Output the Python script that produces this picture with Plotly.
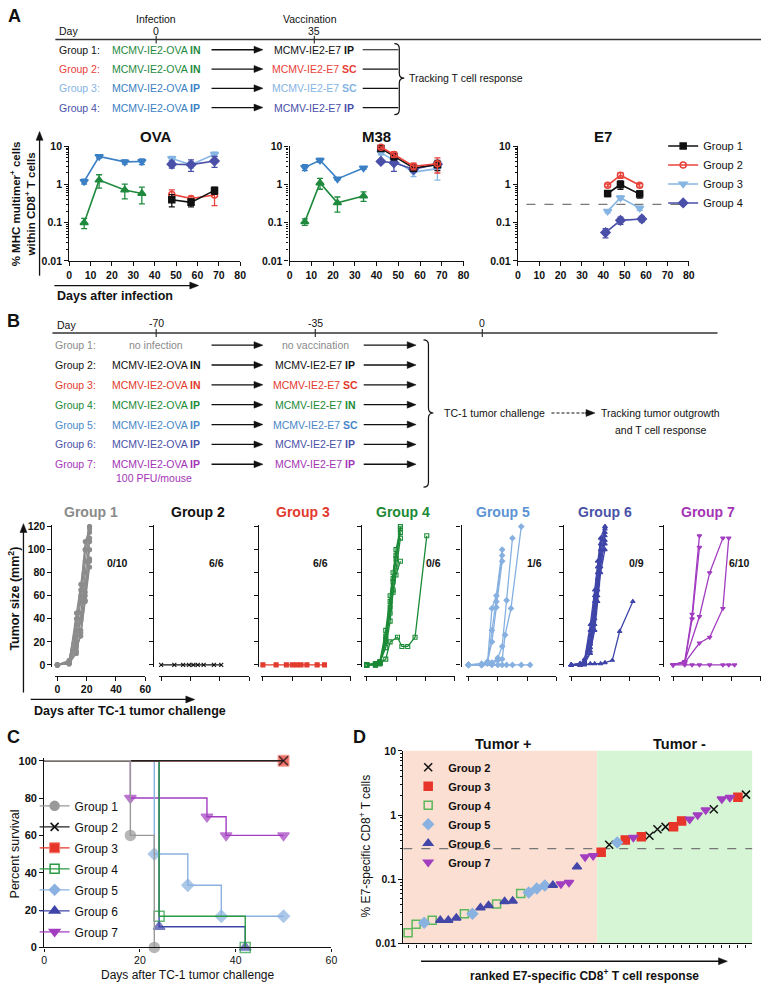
import math
import plotly.graph_objects as go

# ---------------------------------------------------------------------------
# canvas helpers (pixel -> paper)
# ---------------------------------------------------------------------------
W, H = 767, 988
FONT = "Liberation Sans, Arial, sans-serif"


def fx(x):
    return min(1.0, max(0.0, x / W))


def fy(y):
    return min(1.0, max(0.0, 1 - y / H))


def axn(n):
    return "" if n == 1 else str(n)


# ---------------------------------------------------------------------------
# Panel A data  (% MHC multimer+ cells within CD8+ T cells)
# ---------------------------------------------------------------------------
ova_pre_days = [7, 14, 26, 34]
ova_ip_pre = [1.2, 5.4, 3.9, 4.0]
ova_ip_pre_err = [0.17, 0.5, 0.5, 0.7]
ova_in_pre = [0.10, 1.3, 0.72, 0.58]
ova_in_pre_err = [0.03, 0.5, 0.3, 0.27]
ova_post_days = [48, 57, 68]
ova_g1 = [0.40, 0.34, 0.70]
ova_g1_err = [0.14, 0.08, 0.15]
ova_g2 = [0.55, 0.43, 0.53]
ova_g2_err = [0.17, 0.06, 0.25]
ova_g3 = [4.8, 3.3, 6.2]
ova_g3_err = [0.6, 0.6, 0.8]
ova_g4 = [3.4, 3.3, 4.1]
ova_g4_err = [0.7, 1.1, 1.3]

m38_pre_days = [7, 14, 22, 34]
m38_ip_pre = [2.8, 4.3, 1.4, 2.7]
m38_ip_pre_err = [0.5, 0.5, 0.1, 0.2]
m38_in_pre = [0.105, 1.1, 0.33, 0.5]
m38_in_pre_err = [0.02, 0.35, 0.14, 0.14]
m38_post_days = [42, 48, 57, 68]
m38_g1 = [8.8, 5.4, 2.7, 3.3]
m38_g1_err = [0.6, 1.0, 0.5, 1.0]
m38_g2 = [9.4, 6.1, 3.0, 3.5]
m38_g2_err = [0.6, 1.0, 0.6, 1.5]
m38_g3 = [6.8, 4.3, 2.1, 2.6]
m38_g3_err = [0.8, 0.8, 0.5, 1.3]
m38_g4 = [4.0, 3.7, 2.5, 3.4]
m38_g4_err = [0.4, 1.5, 0.4, 0.6]

e7_days = [42, 48, 57]
e7_g4_days = [41, 48, 58]
e7_g1 = [0.58, 1.0, 0.56]
e7_g1_err = [0.1, 0.25, 0.12]
e7_g2 = [0.95, 1.75, 0.95]
e7_g2_err = [0.08, 0.3, 0.1]
e7_g3 = [0.20, 0.45, 0.24]
e7_g3_err = [0.02, 0.05, 0.03]
e7_g4 = [0.055, 0.115, 0.125]
e7_g4_err = [0.015, 0.025, 0.02]
E7_CUTOFF = 0.3

# ---------------------------------------------------------------------------
# Panel B data  (tumor size, mm2, per mouse)
# ---------------------------------------------------------------------------
g1_days = [0, 8, 13, 16, 19, 22]
g1_sizes = [
    [0, 2, 45, 70, 100, 120],
    [0, 1, 30, 55, 90, 115],
    [0, 3, 20, 40, 63, 110],
    [0, 1, 15, 25, 56, 90],
    [0, 2, 25, 45, 80, 107],
    [0, 4, 35, 60, 100, 120],
    [0, 1, 10, 30, 60, 92],
    [0, 2, 18, 38, 70, 100],
    [0, 1, 12, 28, 55, 85],
    [0, 3, 40, 65, 107, 118],
]
g2_days = [0, 9, 15, 19, 22, 25, 29, 36, 41]
g2_sizes = [[0, 0, 0, 0, 0, 0, 0, 0, 0]]
g3_days = [0, 9, 16, 20, 23, 26, 30, 37, 42]
g3_sizes = [[0, 0, 0, 0, 0, 0, 0, 0, 0]]
g4_days = [0, 6, 9, 13, 16, 18, 20, 23]
g4_sizes = [
    [0, 1, 2, 25, 50, 75, 95, 120],
    [0, 0, 1, 20, 45, 65, 85, 110],
    [0, 1, 3, 30, 60, 80, 100, 118],
    [0, 0, 2, 15, 38, 63, 78, 90],
    [0, 1, 2, 22, 55, 72, 92, 115],
]
g4_late_days = [0, 6, 9, 13, 16, 21, 24, 28, 33, 41]
g4_late_sizes = [0, 0, 1, 5, 20, 24, 16, 16, 24, 112]
g5_curve_days = [
    [0, 9, 13, 16, 19, 23],
    [0, 9, 13, 16, 19, 23],
    [0, 9, 13, 16, 19, 23],
    [0, 9, 16, 20, 23, 26, 30],
    [0, 9, 16, 20, 23, 25, 29, 36],
    [0, 9, 16, 20, 23, 26, 30, 36, 42],
]
g5_curve_sizes = [
    [0, 1, 2, 49, 60, 100],
    [0, 0, 1, 30, 55, 95],
    [0, 0, 3, 20, 50, 90],
    [0, 0, 2, 6, 16, 56, 110],
    [0, 0, 1, 4, 5, 26, 49, 120],
    [0, 0, 0, 0, 0, 0, 0, 0, 0],
]
g6_days = [0, 6, 9, 13, 16, 18, 20, 23]
g6_sizes = [
    [0, 0, 2, 20, 50, 75, 100, 120],
    [0, 1, 3, 30, 60, 85, 105, 118],
    [0, 0, 5, 15, 40, 65, 90, 112],
    [0, 1, 2, 25, 55, 80, 95, 115],
    [0, 0, 1, 10, 35, 60, 85, 108],
    [0, 0, 4, 35, 65, 90, 110, 120],
    [0, 1, 3, 18, 45, 70, 92, 105],
    [0, 0, 2, 12, 30, 55, 80, 100],
]
g6_late_days = [0, 6, 9, 13, 16, 20, 23, 28, 33, 42]
g6_late_sizes = [0, 0, 0, 1, 1, 1, 2, 4, 29, 55]
g7_curve_days = [
    [0, 8, 13, 18],
    [0, 8, 13, 18],
    [0, 8, 18, 25, 34],
    [0, 8, 18, 25, 34, 38],
    [0, 8, 13, 18, 25, 34, 38, 42],
]
g7_curve_sizes = [
    [0, 3, 44, 112],
    [0, 2, 40, 102],
    [0, 3, 42, 80, 110],
    [0, 2, 19, 24, 49, 110],
    [0, 0, 0, 0, 0, 0, 0, 0],
]
tumor_free = ["0/10", "6/6", "6/6", "0/6", "1/6", "0/9", "6/10"]

# ---------------------------------------------------------------------------
# Panel C data  (Kaplan-Meier survival, %)
# ---------------------------------------------------------------------------
surv_g1_days = [0, 18, 23]
surv_g1 = [100, 60, 0]
surv_g2_days = [0, 50]
surv_g2 = [100, 100]
surv_g3_days = [0, 50]
surv_g3 = [100, 100]
surv_g4_days = [0, 24, 42]
surv_g4 = [100, 16.7, 0]
surv_g5_days = [0, 23, 30, 37, 50]
surv_g5 = [100, 50, 33.3, 16.7, 16.7]
surv_g6_days = [0, 24, 42]
surv_g6 = [100, 11.1, 0]
surv_g7_days = [0, 18, 34, 38, 50]
surv_g7 = [100, 80, 70, 60, 60]

# ---------------------------------------------------------------------------
# Panel D data  (ranked % E7-specific CD8+ T cells)
# ---------------------------------------------------------------------------
rank_values = [
    0.0147, 0.020, 0.021, 0.023, 0.023, 0.023, 0.025, 0.029, 0.029, 0.036,
    0.039, 0.041, 0.045, 0.046, 0.060, 0.062, 0.072, 0.080, 0.081, 0.084,
    0.089, 0.156, 0.223, 0.232, 0.263, 0.345, 0.375, 0.41, 0.448, 0.459,
    0.475, 0.603, 0.654, 0.66, 0.81, 0.86, 1.0, 1.2, 1.23, 1.78,
    1.88, 1.90, 2.08,
]
rank_groups = [
    4, 4, 5, 4, 6, 6, 6, 4, 5, 6,
    6, 4, 6, 6, 4, 5, 5, 5, 6, 7,
    7, 6, 7, 7, 3, 2, 5, 3, 7, 3,
    2, 2, 2, 3, 3, 7, 7, 7, 2, 7,
    7, 3, 2,
]
TUMOR_SPLIT = 24.5  # ranks 1-24 tumor +, 25-43 tumor -

# ---------------------------------------------------------------------------
# colours
# ---------------------------------------------------------------------------
BLACK = "#111111"
A_RED = "#e8423a"
A_LBLUE = "#86b5e3"
A_INDIGO = "#4a4fa8"
A_BLUE = "#3b7fc4"
A_GREEN = "#1f8a3e"

B_COL = {1: "#8c8c8c", 2: BLACK, 3: "#e23a2d", 4: "#1b8a36",
         5: "#86b0e0", 6: "#3f45a8", 7: "#a23dc0"}
B_TITLE = {1: "#8a8a8a", 2: BLACK, 3: "#e23a2d", 4: "#1b8a36",
           5: "#5b93d3", 6: "#4a52a8", 7: "#a334b5"}
B_SYM = {1: "circle", 2: "x-thin", 3: "square", 4: "square-open",
         5: "diamond", 6: "triangle-up", 7: "triangle-down"}
C_COL = {1: "#999999", 2: "#222222", 3: "#e8352a", 4: "#2a9a45",
         5: "#8ab2e0", 6: "#3f45a8", 7: "#a23dc0"}
D_COL = {2: BLACK, 3: "#e8352a", 4: "#5cb85c", 5: "#8ab2e0",
         6: "#4347a8", 7: "#a23dc0"}

fig = go.Figure()
ann = []
shapes = []
SCH = 10.5  # schematic font size


def text(x, y, s, size=11, color=BLACK, anchor="left", bold=False, angle=0):
    ann.append(dict(x=fx(x), y=fy(y), xref="paper", yref="paper", text=s,
                    showarrow=False, xanchor=anchor, yanchor="middle",
                    textangle=angle,
                    font=dict(family=FONT, size=size, color=color,
                              weight="bold" if bold else "normal")))


def line(x0, y0, x1, y1, width=1.2, color=BLACK, dash=None):
    shapes.append(dict(type="line", xref="paper", yref="paper",
                       x0=fx(x0), y0=fy(y0), x1=fx(x1), y1=fy(y1),
                       line=dict(color=color, width=width, dash=dash)))


def arrow(x0, y0, x1, y1, width=1.3, head=9, half=3.5):
    # shaft + filled triangular head, all in pixel space
    L = math.hypot(x1 - x0, y1 - y0)
    ux, uy = (x1 - x0) / L, (y1 - y0) / L
    bx, by = x1 - ux * head, y1 - uy * head
    line(x0, y0, bx + ux * 1, by + uy * 1, width=width)
    p1 = (bx - uy * half, by + ux * half)
    p2 = (bx + uy * half, by - ux * half)
    path = (f"M {fx(x1)},{fy(y1)} L {fx(p1[0])},{fy(p1[1])} "
            f"L {fx(p2[0])},{fy(p2[1])} Z")
    shapes.append(dict(type="path", xref="paper", yref="paper", path=path,
                       fillcolor=BLACK, line=dict(color=BLACK, width=0.5)))


def bracket(x, top, bottom, mid, hook=5, tip=5, r=5):
    p = (f"M {fx(x - hook)},{fy(top)} Q {fx(x)},{fy(top)} {fx(x)},{fy(top + r)} "
         f"L {fx(x)},{fy(mid - r)} Q {fx(x)},{fy(mid)} {fx(x + tip)},{fy(mid)} "
         f"Q {fx(x)},{fy(mid)} {fx(x)},{fy(mid + r)} "
         f"L {fx(x)},{fy(bottom - r)} Q {fx(x)},{fy(bottom)} {fx(x - hook)},{fy(bottom)}")
    shapes.append(dict(type="path", xref="paper", yref="paper", path=p,
                       line=dict(color=BLACK, width=1.2)))


axis_base = dict(showline=True, linecolor=BLACK, linewidth=1.2, ticks="outside",
                 tickcolor=BLACK, tickwidth=1.2, ticklen=4, showgrid=False,
                 zeroline=False,
                 tickfont=dict(family=FONT, size=10.5, color=BLACK, weight="bold"))
layout_axes = {}
log_minor = [m * 10 ** e for e in (-2, -1, 0) for m in range(2, 10)]

# ===========================================================================
# Panel A
# ===========================================================================
A_x = [(67, 240), (290, 466), (521, 694)]
for i, (a, b) in enumerate(A_x):
    n = i + 1
    layout_axes[f"xaxis{axn(n)}"] = dict(axis_base, domain=[fx(a), fx(b)], range=[0, 80],
                                         tick0=0, dtick=10, anchor=f"y{axn(n)}")
    layout_axes[f"yaxis{axn(n)}"] = dict(axis_base, type="log", domain=[fy(258), fy(142)],
                                         range=[-2, 1], tickvals=[0.01, 0.1, 1, 10],
                                         ticktext=["0.01", "0.1", "1", "10"],
                                         anchor=f"x{axn(n)}",
                                         minor=dict(ticks="outside", ticklen=2, tickcolor=BLACK,
                                                    tickvals=log_minor))


def a_series(n, days, vals, err, color, symbol, name=None, legend=False, size=7, rank=None):
    fig.add_trace(go.Scatter(
        x=days, y=vals, xaxis=f"x{axn(n)}", yaxis=f"y{axn(n)}", mode="lines+markers",
        line=dict(color=color, width=1.6),
        marker=dict(symbol=symbol, size=size, color=color, line=dict(color=color, width=1.5)),
        error_y=dict(type="data", array=err, color=color, thickness=1.3, width=3),
        name=name, showlegend=legend, legend="legend", legendrank=rank or 1000,
        cliponaxis=False))


# OVA
a_series(1, ova_pre_days, ova_ip_pre, ova_ip_pre_err, A_BLUE, "triangle-down")
a_series(1, ova_pre_days, ova_in_pre, ova_in_pre_err, A_GREEN, "triangle-up")
a_series(1, ova_post_days, ova_g3, ova_g3_err, A_LBLUE, "triangle-down", "Group 3", True, rank=3)
a_series(1, ova_post_days, ova_g4, ova_g4_err, A_INDIGO, "diamond", "Group 4", True, rank=4)
a_series(1, ova_post_days, ova_g2, ova_g2_err, A_RED, "circle-open", "Group 2", True, size=6, rank=2)
a_series(1, ova_post_days, ova_g1, ova_g1_err, BLACK, "square", "Group 1", True, size=6, rank=1)
# M38
a_series(2, m38_pre_days, m38_ip_pre, m38_ip_pre_err, A_BLUE, "triangle-down")
a_series(2, m38_pre_days, m38_in_pre, m38_in_pre_err, A_GREEN, "triangle-up")
a_series(2, m38_post_days, m38_g3, m38_g3_err, A_LBLUE, "triangle-down")
a_series(2, m38_post_days, m38_g4, m38_g4_err, A_INDIGO, "diamond")
a_series(2, m38_post_days, m38_g1, m38_g1_err, BLACK, "square", size=6)
a_series(2, m38_post_days, m38_g2, m38_g2_err, A_RED, "circle-open", size=6)
# E7
fig.add_trace(go.Scatter(x=[4, 79.5], y=[E7_CUTOFF, E7_CUTOFF], xaxis="x3", yaxis="y3",
                         mode="lines", line=dict(color="#777777", width=1.3, dash="dash"),
                         showlegend=False, hoverinfo="skip"))
a_series(3, e7_days, e7_g3, e7_g3_err, A_LBLUE, "triangle-down")
a_series(3, e7_g4_days, e7_g4, e7_g4_err, A_INDIGO, "diamond")
a_series(3, e7_days, e7_g1, e7_g1_err, BLACK, "square", size=6)
a_series(3, e7_days, e7_g2, e7_g2_err, A_RED, "circle-open", size=6)

text(3, 10, "A", 18, bold=True)
text(55, 25, "Day", SCH)
text(155, 13, "Infection", SCH, anchor="center")
text(155, 25, "0", SCH, anchor="center")
text(311, 13, "Vaccination", SCH, anchor="center")
text(315, 25, "35", SCH, anchor="center")
line(53, 34, 767, 34, width=1.5, color="#333333")
line(155, 30, 155, 38, color="#333333")
line(315, 30, 315, 38, color="#333333")

rows_A = [
    ("Group 1:", BLACK, "MCMV-IE2-OVA", "IN", A_GREEN, "MCMV-IE2-E7", "IP", BLACK),
    ("Group 2:", A_RED, "MCMV-IE2-OVA", "IN", A_GREEN, "MCMV-IE2-E7", "SC", A_RED),
    ("Group 3:", A_LBLUE, "MCMV-IE2-OVA", "IP", A_BLUE, "MCMV-IE2-E7", "SC", A_LBLUE),
    ("Group 4:", A_INDIGO, "MCMV-IE2-OVA", "IP", A_BLUE, "MCMV-IE2-E7", "IP", A_INDIGO),
]
for i, (lab, lc, v1, r1, c1, v2, r2, c2) in enumerate(rows_A):
    y = 44.3 + 19.5 * i
    text(55, y, lab, SCH, lc)
    text(155, y, f"{v1} <b>{r1}</b>", SCH, c1, anchor="center")
    arrow(211, y, 263, y)
    text(315, y, f"{v2} <b>{r2}</b>", SCH, c2, anchor="center")
    line(364, y, 400, y)
bracket(401, 38, 110, 73)
text(409, 73, "Tracking T cell response", SCH)

text(155, 132, "OVA", 15, bold=True, anchor="center")
text(378, 132, "M38", 15, bold=True, anchor="center")
text(607, 132, "E7", 15, bold=True, anchor="center")
text(20, 200, "% MHC multimer<sup>+</sup> cells<br>within CD8<sup>+</sup> T cells", 11.5,
     bold=True, angle=-90, anchor="center")
arrow(37, 273, 37, 127)
arrow(52, 283, 198, 283)
text(53, 294, "Days after infection", 12.5, bold=True)

# ===========================================================================
# Panel B
# ===========================================================================
text(2, 319, "B", 18, bold=True)
text(53, 323, "Day", SCH)
text(155, 321, "-70", SCH, anchor="center")
text(316, 321, "-35", SCH, anchor="center")
text(485, 321, "0", SCH, anchor="center")
line(50, 331, 723, 331, width=1.5, color="#333333")
for tx in (155, 316, 485):
    line(tx, 327, tx, 335, color="#333333")

B_BLUE = "#4a88c8"
rows_B = [
    ("Group 1:", B_TITLE[1], "no infection", "", B_TITLE[1], "no vaccination", "", B_TITLE[1]),
    ("Group 2:", BLACK, "MCMV-IE2-OVA", "IN", BLACK, "MCMV-IE2-E7", "IP", BLACK),
    ("Group 3:", B_COL[3], "MCMV-IE2-OVA", "IN", B_COL[3], "MCMV-IE2-E7", "SC", B_COL[3]),
    ("Group 4:", B_COL[4], "MCMV-IE2-OVA", "IP", B_COL[4], "MCMV-IE2-E7", "IN", B_COL[4]),
    ("Group 5:", B_BLUE, "MCMV-IE2-OVA", "IP", B_BLUE, "MCMV-IE2-E7", "SC", B_BLUE),
    ("Group 6:", B_TITLE[6], "MCMV-IE2-OVA", "IP", B_TITLE[6], "MCMV-IE2-E7", "IP", B_TITLE[6]),
    ("Group 7:", B_TITLE[7], "MCMV-IE2-OVA", "IP", B_TITLE[7], "MCMV-IE2-E7", "IP", B_TITLE[7]),
]
for i, (lab, lc, v1, r1, c1, v2, r2, c2) in enumerate(rows_B):
    y = 343.3 + 20.1 * i
    text(51, y, lab, SCH, lc)
    text(155, y, f"{v1} <b>{r1}</b>" if r1 else v1, SCH, c1, anchor="center")
    arrow(211, y, 263, y)
    text(316, y, f"{v2} <b>{r2}</b>" if r2 else v2, SCH, c2, anchor="center")
    arrow(365, y, 418, y)
text(153, 478, "100 PFU/mouse", SCH, B_TITLE[7], anchor="center")
bracket(430.5, 338, 487, 412)
text(444, 412, "TC-1 tumor challenge", SCH)
line(555, 412, 590, 412, width=1.2, dash="3px,2px")
arrow(589, 412, 599, 412)
text(603, 412, "Tracking tumor outgrowth", SCH)
text(617, 429, "and T cell response", SCH)

B_yaxis_x = [49, 152, 258, 362, 463, 567, 668]
B_x0 = [55, 160, 263, 368, 471, 575, 678]
B_title_x = [89, 197, 304, 405, 506, 609, 713]
B_ratio_x = [116, 216, 321, 436, 538, 641, 745]
ppd = 89 / 60
ppu = 140 / 120
for k in range(7):
    n = 4 + k
    first = k == 0
    layout_axes[f"xaxis{n}"] = dict(axis_base, domain=[fx(B_x0[k] - 1.5 * ppd), fx(B_x0[k] + 60 * ppd)],
                                    range=[-1.5, 60], tickvals=[0, 20, 40, 60],
                                    showticklabels=first, anchor="free", position=fy(678))
    layout_axes[f"yaxis{n}"] = dict(axis_base, domain=[fy(667 + 2 * ppu), fy(527 - 1 * ppu)],
                                    range=[-2, 121], tickvals=[0, 20, 40, 60, 80, 100, 120],
                                    showticklabels=first, anchor="free", position=fx(B_yaxis_x[k]))
    text(B_title_x[k], 512.7, f"Group {k + 1}", 14, B_TITLE[k + 1], anchor="center", bold=True)
    text(B_ratio_x[k], 564, tumor_free[k], 10.5, anchor="center", bold=True)


def b_curve(k, days, sizes):
    n = 4 + k - 1
    col = B_COL[k]
    sym = B_SYM[k]
    fig.add_trace(go.Scatter(
        x=days, y=sizes, xaxis=f"x{n}", yaxis=f"y{n}", mode="lines+markers",
        line=dict(color=col, width=1.3),
        marker=dict(symbol=sym, size=4, color=col, line=dict(color=col, width=1.1)),
        showlegend=False, cliponaxis=False, hoverinfo="skip"))


for s in g1_sizes:
    b_curve(1, g1_days, s)
for s in g2_sizes:
    b_curve(2, g2_days, s)
for s in g3_sizes:
    b_curve(3, g3_days, s)
for s in g4_sizes:
    b_curve(4, g4_days, s)
b_curve(4, g4_late_days, g4_late_sizes)
for d, s in zip(g5_curve_days, g5_curve_sizes):
    b_curve(5, d, s)
for s in g6_sizes:
    b_curve(6, g6_days, s)
b_curve(6, g6_late_days, g6_late_sizes)
for d, s in zip(g7_curve_days, g7_curve_sizes):
    b_curve(7, d, s)

text(11, 600, "Tumor size (mm<sup>2</sup>)", 12.5, bold=True, angle=-90, anchor="center")
arrow(20.7, 695, 20.7, 524)
arrow(28, 702, 194, 702)
text(29, 714, "Days after TC-1 tumor challenge", 12.5, bold=True)

# ===========================================================================
# Panel C
# ===========================================================================
text(2, 740, "C", 18, bold=True)
ppc = (953 - 764) / 100
layout_axes["xaxis11"] = dict(axis_base, domain=[fx(41.7), fx(332.3)], range=[0, 60],
                              tickvals=[0, 20, 40, 60], anchor="y11", ticklen=3,
                              tickfont=dict(family=FONT, size=10.5, color=BLACK))
layout_axes["yaxis11"] = dict(axis_base, domain=[fy(953), fy(764 - 1.2 * ppc)],
                              range=[0, 101.2], tickvals=[0, 20, 40, 60, 80, 100],
                              anchor="x11", tickfont=dict(family=FONT, size=11, color=BLACK, weight="bold"))

surv = [
    (7, surv_g7_days, surv_g7, "triangle-down", 10),
    (6, surv_g6_days, surv_g6, "triangle-up", 10),
    (5, surv_g5_days, surv_g5, "diamond", 9),
    (4, surv_g4_days, surv_g4, "square-open", 10),
    (3, surv_g3_days, surv_g3, "square", 11),
    (2, surv_g2_days, surv_g2, "x-thin", 9),
    (1, surv_g1_days, surv_g1, "circle", 10),
]
for g, days, vals, sym, ms in surv:
    col = C_COL[g]
    mline = dict(color="#f08070", width=1) if g == 3 else dict(color=col, width=1.5)
    if g == 2:
        mline = dict(color=BLACK, width=1.6)
    sizes = [0] + [ms] * (len(days) - 1)
    fig.add_trace(go.Scatter(
        x=days, y=vals, xaxis="x11", yaxis="y11", mode="lines+markers",
        line=dict(color=col, width=1.4, shape="hv"),
        marker=dict(symbol=sym, size=sizes, color=col, line=mline),
        showlegend=False, cliponaxis=False, hoverinfo="skip"))
    fig.add_trace(go.Scatter(
        x=[None], y=[None], xaxis="x11", yaxis="y11", mode="lines+markers",
        line=dict(color=col, width=1.4),
        marker=dict(symbol=sym, size=ms - 1, color=col, line=mline),
        name=f"Group {g}", legend="legend2", legendrank=g, legendgroup=f"c{g}",
        showlegend=True))

text(12, 858, "Percent survival", 12.5, angle=-90, anchor="center")
text(187, 981, "Days after TC-1 tumor challenge", 12, anchor="center")

# ===========================================================================
# Panel D
# ===========================================================================
text(352, 740, "D", 18, bold=True)
layout_axes["xaxis12"] = dict(axis_base, domain=[fx(405), fx(758.3)], range=[0.4, 43.8],
                              tick0=1, dtick=1, ticklen=3, tickwidth=1, showticklabels=False,
                              anchor="y12")
layout_axes["yaxis12"] = dict(axis_base, type="log", domain=[fy(949), fy(754)], range=[-2, 1],
                              tickvals=[0.01, 0.1, 1, 10], ticktext=["0.01", "0.1", "1", "10"],
                              anchor="x12",
                              minor=dict(ticks="outside", ticklen=2, tickcolor=BLACK,
                                         tickvals=log_minor))
shapes.append(dict(type="rect", xref="x12", yref="y12 domain", x0=0.4, x1=TUMOR_SPLIT,
                   y0=0, y1=1, fillcolor="#fbdfd2", line=dict(width=0), layer="below"))
shapes.append(dict(type="rect", xref="x12", yref="y12 domain", x0=TUMOR_SPLIT, x1=43.8,
                   y0=0, y1=1, fillcolor="#d6f5d4", line=dict(width=0), layer="below"))
fig.add_trace(go.Scatter(x=[0.4, 43.8], y=[E7_CUTOFF, E7_CUTOFF], xaxis="x12", yaxis="y12",
                         mode="lines", line=dict(color="#777777", width=1.2, dash="dash"),
                         showlegend=False, hoverinfo="skip"))
ranks = list(range(1, len(rank_values) + 1))
for g in (2, 3, 4, 5, 6, 7):
    xs = [r for r, gg in zip(ranks, rank_groups) if gg == g]
    ys = [v for v, gg in zip(rank_values, rank_groups) if gg == g]
    col = D_COL[g]
    sym = B_SYM[g]
    fig.add_trace(go.Scatter(
        x=xs, y=ys, xaxis="x12", yaxis="y12", mode="markers",
        marker=dict(symbol=sym, size=8, color=col, line=dict(color=col, width=1.5)),
        name=f"Group {g}", legend="legend3", legendrank=g, cliponaxis=False))

text(506.7, 747, "Tumor +", 14.5, bold=True, anchor="center")
text(685, 747, "Tumor -", 14.5, bold=True, anchor="center")
text(366, 850, "% E7-specific CD8<sup>+</sup> T cells", 12, angle=-90, anchor="center")
arrow(423, 967, 733, 967)
text(588, 981, "ranked E7-specific CD8<sup>+</sup> T cell response", 12, bold=True, anchor="center")

# ---------------------------------------------------------------------------
fig.update_layout(
    width=W, height=H, margin=dict(l=0, r=0, t=0, b=0),
    paper_bgcolor="white", plot_bgcolor="white",
    font=dict(family=FONT, size=11, color=BLACK),
    annotations=ann, shapes=shapes,
    legend=dict(x=fx(668), y=fy(127), xanchor="left", yanchor="top",
                font=dict(family=FONT, size=11, color=BLACK),
                bgcolor="rgba(0,0,0,0)", itemwidth=30, tracegroupgap=0),
    legend2=dict(x=fx(32), y=fy(795), xanchor="left", yanchor="top",
                 font=dict(family=FONT, size=12, color=BLACK),
                 bgcolor="rgba(0,0,0,0)", itemwidth=30, tracegroupgap=2),
    legend3=dict(x=fx(410), y=fy(756), xanchor="left", yanchor="top",
                 font=dict(family=FONT, size=11, color=BLACK, weight="bold"),
                 bgcolor="rgba(0,0,0,0)", itemwidth=30, tracegroupgap=0),
    **layout_axes,
)

# page body margin removed so the 767x988 figure fills the window exactly
fig.write_html("out.html", config={"displayModeBar": False},
               post_script="document.body.style.margin='0px';")
